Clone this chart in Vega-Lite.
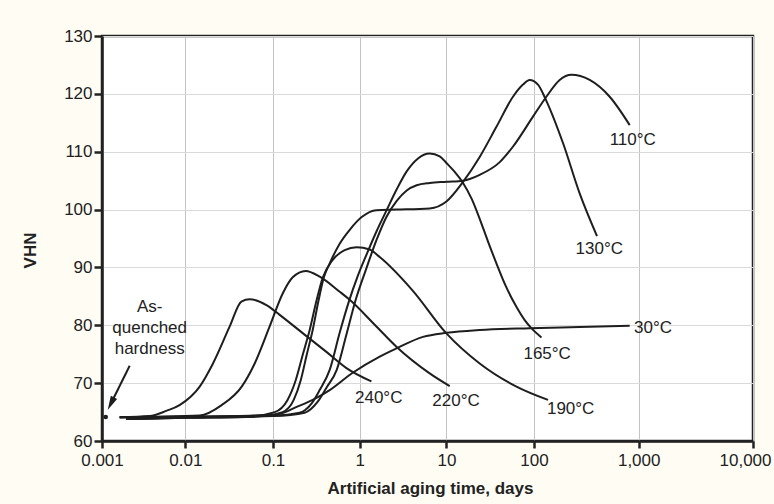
{
  "$schema": "https://vega.github.io/schema/vega-lite/v6.json",
  "width": 651,
  "height": 405,
  "autosize": {"type": "none"},
  "padding": {"left": 102, "top": 36, "right": 21, "bottom": 63},
  "background": "#fffdf3",
  "config": {
    "view": {"stroke": "#222222", "strokeWidth": 2.5, "fill": "white"},
    "font": "Liberation Sans, Arial, sans-serif",
    "text": {"font": "Liberation Sans, Arial, sans-serif", "fontSize": 17, "fill": "#222222"}
  },
  "datasets": {
    "curves": [
      {"T": "240", "t": 0.00163, "v": 64.1},
      {"T": "240", "t": 0.00372, "v": 64.3},
      {"T": "240", "t": 0.00589, "v": 65.2},
      {"T": "240", "t": 0.00851, "v": 66.2},
      {"T": "240", "t": 0.01456, "v": 69.4},
      {"T": "240", "t": 0.02065, "v": 73.4},
      {"T": "240", "t": 0.03206, "v": 79.8},
      {"T": "240", "t": 0.04355, "v": 84.1},
      {"T": "240", "t": 0.0542, "v": 84.5},
      {"T": "240", "t": 0.0841, "v": 83.5},
      {"T": "240", "t": 0.1194, "v": 81.8},
      {"T": "240", "t": 0.2218, "v": 78.6},
      {"T": "240", "t": 0.413, "v": 75.4},
      {"T": "240", "t": 0.7031, "v": 72.6},
      {"T": "240", "t": 1.365, "v": 70.3},

      {"T": "220", "t": 0.00163, "v": 64.1},
      {"T": "220", "t": 0.00372, "v": 64.2},
      {"T": "220", "t": 0.01456, "v": 64.4},
      {"T": "220", "t": 0.02594, "v": 66.2},
      {"T": "220", "t": 0.04395, "v": 69.4},
      {"T": "220", "t": 0.0618, "v": 73.4},
      {"T": "220", "t": 0.0916, "v": 79.8},
      {"T": "220", "t": 0.1294, "v": 85.5},
      {"T": "220", "t": 0.1687, "v": 88.3},
      {"T": "220", "t": 0.2382, "v": 89.4},
      {"T": "220", "t": 0.3459, "v": 88.4},
      {"T": "220", "t": 0.5875, "v": 85.8},
      {"T": "220", "t": 0.7674, "v": 84.4},
      {"T": "220", "t": 1.489, "v": 80.1},
      {"T": "220", "t": 2.649, "v": 76.3},
      {"T": "220", "t": 6.412, "v": 71.7},
      {"T": "220", "t": 10.91, "v": 69.5},

      {"T": "190", "t": 0.00163, "v": 64.1},
      {"T": "190", "t": 0.01, "v": 64.2},
      {"T": "190", "t": 0.0618, "v": 64.4},
      {"T": "190", "t": 0.1047, "v": 65.0},
      {"T": "190", "t": 0.1472, "v": 67.1},
      {"T": "190", "t": 0.1828, "v": 70.5},
      {"T": "190", "t": 0.2203, "v": 74.9},
      {"T": "190", "t": 0.2649, "v": 79.2},
      {"T": "190", "t": 0.3192, "v": 84.4},
      {"T": "190", "t": 0.3741, "v": 88.2},
      {"T": "190", "t": 0.4887, "v": 91.3},
      {"T": "190", "t": 0.6714, "v": 93.0},
      {"T": "190", "t": 0.9226, "v": 93.5},
      {"T": "190", "t": 1.303, "v": 93.1},
      {"T": "190", "t": 1.702, "v": 91.8},
      {"T": "190", "t": 4.083, "v": 86.0},
      {"T": "190", "t": 10, "v": 78.6},
      {"T": "190", "t": 23.99, "v": 73.4},
      {"T": "190", "t": 63.1, "v": 69.4},
      {"T": "190", "t": 136.1, "v": 67.1},

      {"T": "165", "t": 0.00163, "v": 64.1},
      {"T": "165", "t": 0.01, "v": 64.2},
      {"T": "165", "t": 0.1, "v": 64.4},
      {"T": "165", "t": 0.2032, "v": 64.9},
      {"T": "165", "t": 0.2793, "v": 66.5},
      {"T": "165", "t": 0.3451, "v": 68.8},
      {"T": "165", "t": 0.4508, "v": 72.3},
      {"T": "165", "t": 0.5875, "v": 78.7},
      {"T": "165", "t": 0.7464, "v": 84.0},
      {"T": "165", "t": 0.9484, "v": 88.5},
      {"T": "165", "t": 1.205, "v": 92.3},
      {"T": "165", "t": 1.57, "v": 96.3},
      {"T": "165", "t": 2.046, "v": 99.9},
      {"T": "165", "t": 2.673, "v": 103.5},
      {"T": "165", "t": 3.483, "v": 106.6},
      {"T": "165", "t": 4.667, "v": 108.8},
      {"T": "165", "t": 6.412, "v": 109.7},
      {"T": "165", "t": 8.375, "v": 109.2},
      {"T": "165", "t": 10.07, "v": 108.0},
      {"T": "165", "t": 12.45, "v": 106.5},
      {"T": "165", "t": 15.49, "v": 104.6},
      {"T": "165", "t": 19.5, "v": 101.8},
      {"T": "165", "t": 23.99, "v": 98.4},
      {"T": "165", "t": 29.65, "v": 94.6},
      {"T": "165", "t": 37.24, "v": 90.7},
      {"T": "165", "t": 47.53, "v": 86.8},
      {"T": "165", "t": 62.95, "v": 83.2},
      {"T": "165", "t": 78.34, "v": 80.9},
      {"T": "165", "t": 93.33, "v": 79.5},
      {"T": "165", "t": 117.8, "v": 77.9},

      {"T": "130", "t": 0.00196, "v": 63.8},
      {"T": "130", "t": 0.01, "v": 64.1},
      {"T": "130", "t": 0.0804, "v": 64.4},
      {"T": "130", "t": 0.1294, "v": 65.0},
      {"T": "130", "t": 0.1734, "v": 67.1},
      {"T": "130", "t": 0.2089, "v": 70.5},
      {"T": "130", "t": 0.2449, "v": 74.9},
      {"T": "130", "t": 0.2871, "v": 79.2},
      {"T": "130", "t": 0.3365, "v": 84.4},
      {"T": "130", "t": 0.3846, "v": 88.2},
      {"T": "130", "t": 0.4508, "v": 90.7},
      {"T": "130", "t": 0.5875, "v": 94.1},
      {"T": "130", "t": 0.7674, "v": 96.5},
      {"T": "130", "t": 1.054, "v": 98.7},
      {"T": "130", "t": 1.56, "v": 99.9},
      {"T": "130", "t": 2.649, "v": 100.0},
      {"T": "130", "t": 6.412, "v": 100.2},
      {"T": "130", "t": 10, "v": 101.4},
      {"T": "130", "t": 15.49, "v": 104.8},
      {"T": "130", "t": 23.99, "v": 109.1},
      {"T": "130", "t": 37.24, "v": 114.3},
      {"T": "130", "t": 57.54, "v": 119.5},
      {"T": "130", "t": 74.82, "v": 121.6},
      {"T": "130", "t": 89.33, "v": 122.4},
      {"T": "130", "t": 109.1, "v": 121.6},
      {"T": "130", "t": 131.2, "v": 118.8},
      {"T": "130", "t": 189.2, "v": 111.5},
      {"T": "130", "t": 272.9, "v": 102.8},
      {"T": "130", "t": 399.9, "v": 95.4},

      {"T": "110", "t": 0.00196, "v": 63.8},
      {"T": "110", "t": 0.01, "v": 64.0},
      {"T": "110", "t": 0.1, "v": 64.3},
      {"T": "110", "t": 0.2323, "v": 64.9},
      {"T": "110", "t": 0.3281, "v": 66.8},
      {"T": "110", "t": 0.4169, "v": 69.3},
      {"T": "110", "t": 0.5433, "v": 72.3},
      {"T": "110", "t": 0.7031, "v": 78.4},
      {"T": "110", "t": 0.8995, "v": 84.4},
      {"T": "110", "t": 1.172, "v": 89.5},
      {"T": "110", "t": 1.56, "v": 94.7},
      {"T": "110", "t": 2.046, "v": 98.8},
      {"T": "110", "t": 2.673, "v": 101.5},
      {"T": "110", "t": 3.483, "v": 103.3},
      {"T": "110", "t": 4.539, "v": 104.2},
      {"T": "110", "t": 6.412, "v": 104.6},
      {"T": "110", "t": 10.07, "v": 104.8},
      {"T": "110", "t": 15.49, "v": 105.0},
      {"T": "110", "t": 23.99, "v": 106.0},
      {"T": "110", "t": 40.64, "v": 108.2},
      {"T": "110", "t": 57.68, "v": 110.9},
      {"T": "110", "t": 97.72, "v": 116.1},
      {"T": "110", "t": 131.2, "v": 119.5},
      {"T": "110", "t": 175.8, "v": 122.4},
      {"T": "110", "t": 227.5, "v": 123.3},
      {"T": "110", "t": 340.4, "v": 122.4},
      {"T": "110", "t": 528.4, "v": 119.5},
      {"T": "110", "t": 820.4, "v": 114.6},

      {"T": "30", "t": 0.00196, "v": 63.8},
      {"T": "30", "t": 0.01, "v": 64.0},
      {"T": "30", "t": 0.0542, "v": 64.2},
      {"T": "30", "t": 0.1194, "v": 64.7},
      {"T": "30", "t": 0.1875, "v": 65.9},
      {"T": "30", "t": 0.2871, "v": 67.1},
      {"T": "30", "t": 0.4508, "v": 68.8},
      {"T": "30", "t": 0.8299, "v": 71.8},
      {"T": "30", "t": 1.702, "v": 74.6},
      {"T": "30", "t": 2.649, "v": 76.0},
      {"T": "30", "t": 5.37, "v": 78.0},
      {"T": "30", "t": 10, "v": 78.7},
      {"T": "30", "t": 23.99, "v": 79.2},
      {"T": "30", "t": 89.33, "v": 79.5},
      {"T": "30", "t": 272.9, "v": 79.7},
      {"T": "30", "t": 820.4, "v": 79.9}
    ],
    "labels": [
      {"t": 877, "v": 112.0, "text": "110°C"},
      {"t": 420, "v": 93.2, "text": "130°C"},
      {"t": 133.6, "v": 75.0, "text": "165°C"},
      {"t": 224, "v": 65.5, "text": "190°C"},
      {"t": 12.9, "v": 66.9, "text": "220°C"},
      {"t": 1.656, "v": 67.4, "text": "240°C"},
      {"t": 1334, "v": 79.5, "text": "30°C"}
    ],
    "annot": [
      {"t": 0.00373, "v": 83.2, "text": "As-"},
      {"t": 0.00373, "v": 79.5, "text": "quenched"},
      {"t": 0.00373, "v": 75.9, "text": "hardness"}
    ],
    "arrow": [
      {"t": 0.002147, "v": 73.0, "t2": 0.001276, "v2": 66.45}
    ],
    "head": [
      {"t": 0.001276, "v": 66.45}
    ],
    "dot": [
      {"t": 0.001107, "v": 64.15}
    ]
  },
  "encoding": {
    "x": {
      "field": "t",
      "type": "quantitative",
      "scale": {
        "type": "log",
        "domain": [0.001, 0.01, 0.1, 1, 10, 100, 1000, 10000],
        "range": [0, 83.4, 171, 257.7, 344.4, 432, 536.7, 651],
        "nice": false
      },
      "axis": {
        "values": [0.001, 0.01, 0.1, 1, 10, 100, 1000, 10000],
        "labelExpr": "format(datum.value, ',')",
        "title": "Artificial aging time, days",
        "grid": true,
        "gridColor": "#c4c4c4",
        "gridWidth": 1,
        "domainColor": "#222222",
        "domainWidth": 2.5,
        "tickColor": "#222222",
        "tickWidth": 2.5,
        "tickSize": 7,
        "labelFont": "Liberation Sans, Arial, sans-serif",
        "labelFontSize": 17,
        "labelColor": "#222222",
        "labelPadding": 4,
        "labelFlush": false,
        "labelOverlap": false,
        "labelOffset": {"condition": {"test": "datum.value == 10000", "value": -8}, "value": 0},
        "titleFont": "Liberation Sans, Arial, sans-serif",
        "titleFontSize": 17,
        "titleFontWeight": "bold",
        "titleColor": "#222222",
        "titleX": 328,
        "titleY": 52,
        "titleAlign": "center",
        "titleBaseline": "alphabetic"
      }
    },
    "y": {
      "field": "v",
      "type": "quantitative",
      "scale": {"domain": [60, 130], "nice": false, "zero": false},
      "axis": {
        "values": [60, 70, 80, 90, 100, 110, 120, 130],
        "title": "VHN",
        "grid": true,
        "gridColor": "#dadada",
        "gridWidth": 1,
        "domainColor": "#222222",
        "domainWidth": 2.5,
        "tickColor": "#222222",
        "tickWidth": 2.5,
        "tickSize": 8,
        "labelFont": "Liberation Sans, Arial, sans-serif",
        "labelFontSize": 17,
        "labelColor": "#222222",
        "labelPadding": 2,
        "labelFlush": false,
        "titleFont": "Liberation Sans, Arial, sans-serif",
        "titleFontSize": 17,
        "titleFontWeight": "bold",
        "titleColor": "#222222",
        "titleAngle": -90,
        "titleX": -72,
        "titleY": 214,
        "titleAlign": "center",
        "titleBaseline": "middle"
      }
    }
  },
  "layer": [
    {
      "data": {"name": "curves"},
      "mark": {"type": "line", "interpolate": "monotone", "color": "#1e1e1e", "strokeWidth": 2},
      "encoding": {"detail": {"field": "T"}}
    },
    {
      "data": {"name": "labels"},
      "mark": {"type": "text", "align": "center", "baseline": "middle", "fontSize": 17},
      "encoding": {"text": {"field": "text"}}
    },
    {
      "data": {"name": "annot"},
      "mark": {"type": "text", "align": "center", "baseline": "middle", "fontSize": 17},
      "encoding": {"text": {"field": "text"}}
    },
    {
      "data": {"name": "arrow"},
      "mark": {"type": "rule", "color": "#1e1e1e", "strokeWidth": 2},
      "encoding": {"x2": {"field": "t2"}, "y2": {"field": "v2"}}
    },
    {
      "data": {"name": "head"},
      "mark": {"type": "point", "shape": "M0,-1L0.5,1L-0.5,1Z", "filled": true, "color": "#1e1e1e", "opacity": 1, "size": 196, "angle": 206.6}
    },
    {
      "data": {"name": "dot"},
      "mark": {"type": "point", "shape": "circle", "filled": true, "color": "#1e1e1e", "opacity": 1, "size": 22}
    }
  ]
}
